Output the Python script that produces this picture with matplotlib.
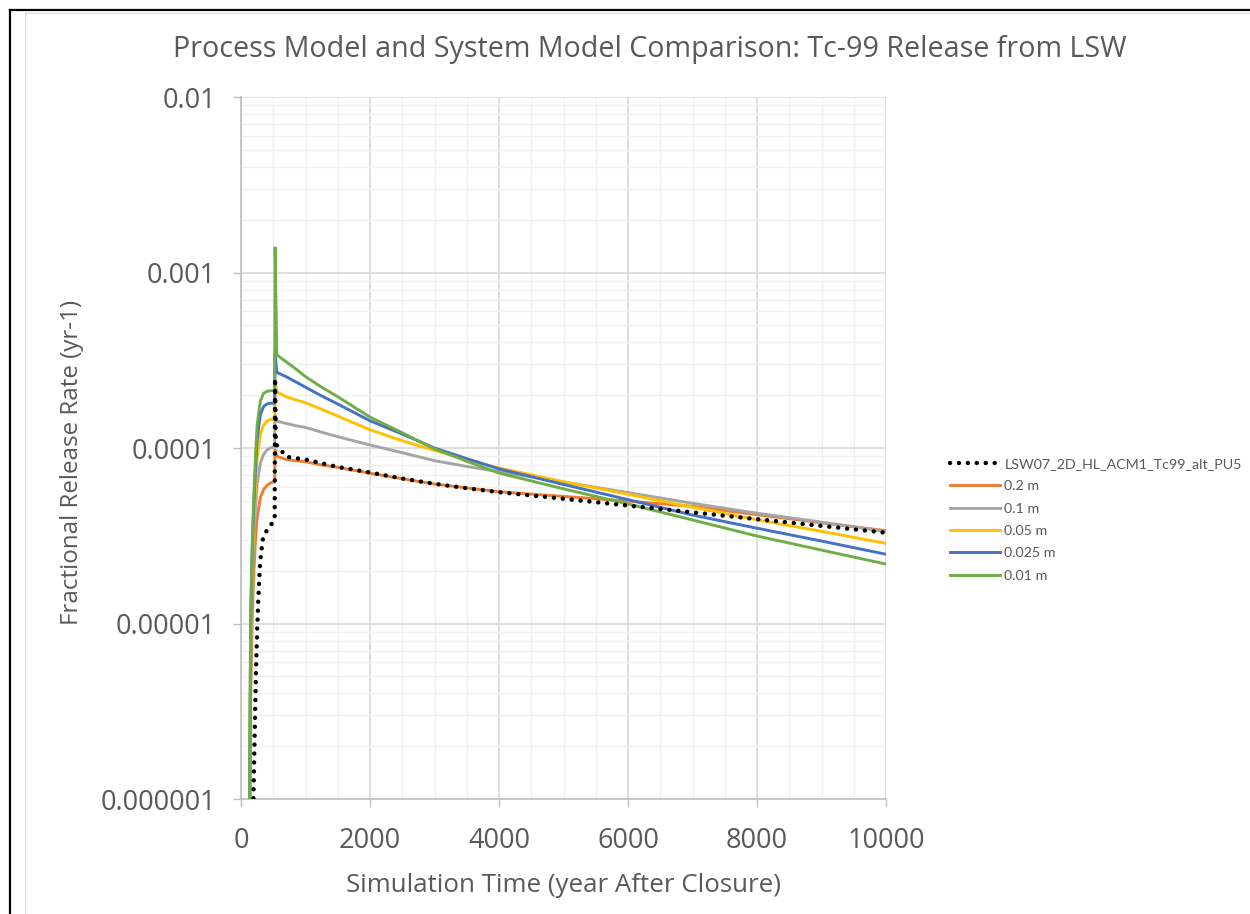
import matplotlib
matplotlib.use("Agg")
import matplotlib.pyplot as plt
from matplotlib.lines import Line2D
from matplotlib.ticker import FixedLocator, FixedFormatter, NullFormatter

# ---- data -------------------------------------------------------------
# simulation time (years after closure) for the process-model curves
t_model = [125, 135, 140, 150, 175, 200, 225, 250, 300, 350, 400, 450, 500, 522,
           528, 555, 600, 700, 850, 1000, 1250, 1500, 2000, 2500, 3000, 3500,
           4000, 5000, 6000, 7000, 8000, 9000, 10000]

rate_020 = [3e-7, 7e-7, 1.2e-6, 4e-6, 1.1e-5, 2.0e-5, 3.0e-5, 4.0e-5, 5.2e-5, 5.8e-5,
            6.1e-5, 6.3e-5, 6.4e-5, 6.4e-5, 9.8e-5, 9.0e-5, 8.85e-5, 8.6e-5, 8.45e-5,
            8.35e-5, 8.0e-5, 7.76e-5, 7.18e-5, 6.68e-5, 6.23e-5, 5.92e-5, 5.63e-5,
            5.3e-5, 4.98e-5, 4.65e-5, 4.17e-5, 3.75e-5, 3.38e-5]

rate_010 = [3e-7, 8e-7, 1.6e-6, 6e-6, 1.7e-5, 3.0e-5, 4.6e-5, 6.2e-5, 8.2e-5, 9.2e-5,
            9.7e-5, 1.0e-4, 1.01e-4, 1.01e-4, 1.55e-4, 1.43e-4, 1.41e-4, 1.38e-4, 1.34e-4,
            1.31e-4, 1.23e-4, 1.16e-4, 1.04e-4, 9.4e-5, 8.47e-5, 7.85e-5, 7.33e-5,
            6.4e-5, 5.57e-5, 4.84e-5, 4.25e-5, 3.78e-5, 3.34e-5]

rate_005 = [3e-7, 9e-7, 2e-6, 8e-6, 2.2e-5, 4.0e-5, 6.3e-5, 8.8e-5, 1.2e-4, 1.35e-4,
            1.42e-4, 1.45e-4, 1.46e-4, 1.46e-4, 2.4e-4, 2.08e-4, 2.05e-4, 1.96e-4, 1.88e-4,
            1.81e-4, 1.66e-4, 1.52e-4, 1.27e-4, 1.1e-4, 9.7e-5, 8.6e-5, 7.7e-5,
            6.42e-5, 5.45e-5, 4.6e-5, 3.9e-5, 3.35e-5, 2.86e-5]

rate_0025 = [3e-7, 1e-6, 2.5e-6, 1e-5, 2.7e-5, 4.8e-5, 7.8e-5, 1.12e-4, 1.55e-4, 1.72e-4,
             1.78e-4, 1.8e-4, 1.8e-4, 1.8e-4, 3.5e-4, 2.7e-4, 2.65e-4, 2.55e-4, 2.38e-4,
             2.22e-4, 1.98e-4, 1.78e-4, 1.43e-4, 1.2e-4, 1.0e-4, 8.7e-5, 7.6e-5,
             6.2e-5, 5.08e-5, 4.15e-5, 3.49e-5, 2.95e-5, 2.48e-5]

rate_001 = [3e-7, 1e-6, 3e-6, 1.2e-5, 3.0e-5, 5.5e-5, 9.0e-5, 1.35e-4, 1.85e-4, 2.05e-4,
            2.1e-4, 2.12e-4, 2.12e-4, 2.12e-4, 1.4e-3, 3.4e-4, 3.3e-4, 3.1e-4, 2.82e-4,
            2.55e-4, 2.22e-4, 1.96e-4, 1.5e-4, 1.22e-4, 9.9e-5, 8.4e-5, 7.2e-5,
            5.85e-5, 4.8e-5, 3.89e-5, 3.15e-5, 2.62e-5, 2.18e-5]

# system-model reference curve
t_system = [180, 192, 230, 250, 268, 295, 336, 400, 440, 500, 522, 528, 540, 600, 650,
            700, 850, 1000, 1500, 2000, 2500, 3000, 3500, 4000, 5000, 6000, 7000,
            8000, 9000, 10000]
rate_system = [5e-7, 1e-6, 5e-6, 9e-6, 1.36e-5, 2.2e-5, 3.0e-5, 3.4e-5, 3.56e-5, 3.8e-5,
               3.9e-5, 2.5e-4, 1.05e-4, 1.0e-4, 9.4e-5, 8.92e-5, 8.75e-5, 8.6e-5, 7.8e-5,
               7.25e-5, 6.7e-5, 6.25e-5, 5.9e-5, 5.6e-5, 5.14e-5, 4.7e-5, 4.3e-5,
               3.93e-5, 3.6e-5, 3.29e-5]

series_labels = ["LSW07_2D_HL_ACM1_Tc99_alt_PU5", "0.2 m", "0.1 m", "0.05 m",
                 "0.025 m", "0.01 m"]
series_colors = ["black", "#ED7D31", "#A5A5A5", "#FFC000", "#4472C4", "#70AD47"]

x_ticks = [0, 2000, 4000, 6000, 8000, 10000]
y_ticks = [1e-6, 1e-5, 1e-4, 1e-3, 1e-2]
y_tick_labels = ["0.000001", "0.00001", "0.0001", "0.001", "0.01"]

title_text = "Process Model and System Model Comparison: Tc-99 Release from LSW"
x_label = "Simulation Time (year After Closure)"
y_label = "Fractional Release Rate (yr-1)"

# ---- figure -----------------------------------------------------------
TEXT = "#595959"
plt.rcParams["font.family"] = ["Open Sans", "DejaVu Sans"]

fig = plt.figure(figsize=(12.5, 9.14), dpi=100)
W, H = 1250, 914
ax = fig.add_axes([241 / W, 1 - 799 / H, 645 / W, 702 / H])

model_series = [rate_020, rate_010, rate_005, rate_0025, rate_001]
handles = []
h, = ax.plot(t_system, rate_system, color=series_colors[0], lw=3.2,
             linestyle=(0, (0.01, 2.0)), dash_capstyle="round",
             solid_capstyle="round", zorder=6)
handles.append(h)
for vals, col in zip(model_series, series_colors[1:]):
    h, = ax.plot(t_model, vals, color=col, lw=2.1, zorder=3,
                 solid_joinstyle="miter")
    handles.append(h)

ax.set_yscale("log")
ax.set_xlim(0, 10000)
ax.set_ylim(1e-6, 1e-2)

ax.xaxis.set_major_locator(FixedLocator(x_ticks))
ax.xaxis.set_minor_locator(FixedLocator([v for v in range(500, 10000, 500)
                                         if v not in x_ticks]))
ax.yaxis.set_major_locator(FixedLocator(y_ticks))
ax.yaxis.set_major_formatter(FixedFormatter(y_tick_labels))
minor_y = [m * 10.0 ** e for e in range(-6, -2) for m in range(2, 10)]
ax.yaxis.set_minor_locator(FixedLocator(minor_y))
ax.yaxis.set_minor_formatter(NullFormatter())

ax.grid(True, which="major", color="#D9D9D9", lw=1.2, zorder=0)
ax.grid(True, which="minor", color="#F0F0F0", lw=1.0, zorder=0)
ax.set_axisbelow(True)

for side in ("top", "right"):
    ax.spines[side].set_visible(False)
for side in ("left", "bottom"):
    ax.spines[side].set_color("#BFBFBF")
    ax.spines[side].set_linewidth(1.2)

ax.tick_params(axis="both", which="major", direction="out", length=6,
               width=1.0, color="#BFBFBF", labelcolor=TEXT, labelsize=19.5)
ax.tick_params(axis="x", which="major", pad=14)
ax.tick_params(axis="y", which="major", pad=12)
ax.tick_params(axis="both", which="minor", length=0)

fig.text(0.52, 1 - 50 / H, title_text, ha="center", va="center",
         fontsize=20.6, color=TEXT)
fig.text(564 / W, 1 - 885 / H, x_label, ha="center", va="center",
         fontsize=18.6, color=TEXT)
fig.text(72 / W, 1 - 462 / H, y_label, ha="center", va="center",
         rotation=90, fontsize=17.4, color=TEXT)

fig.legend(handles, series_labels, loc="upper left",
           bbox_to_anchor=(950 / W, 1 - 458 / H), frameon=False,
           prop={"family": ["Lato", "DejaVu Sans"], "size": 10.3},
           labelcolor=TEXT, handlelength=3.5, handletextpad=0.3,
           labelspacing=0.72, borderpad=0, borderaxespad=0)

# outer frame of the embedded chart picture
fig.add_artist(Line2D([10 / W, 10 / W], [0, 1 - 10 / H], color="black", lw=1.6,
                      transform=fig.transFigure))
fig.add_artist(Line2D([10 / W, 1], [1 - 10 / H, 1 - 10 / H], color="black", lw=1.6,
                      transform=fig.transFigure))
fig.add_artist(Line2D([25 / W, 25 / W], [0, 1 - 13 / H], color="#D9D9D9", lw=0.8,
                      transform=fig.transFigure))
fig.add_artist(Line2D([25 / W, 1], [1 - 13 / H, 1 - 13 / H], color="#D9D9D9", lw=0.8,
                      transform=fig.transFigure))

fig.savefig("out.png", dpi=100)
